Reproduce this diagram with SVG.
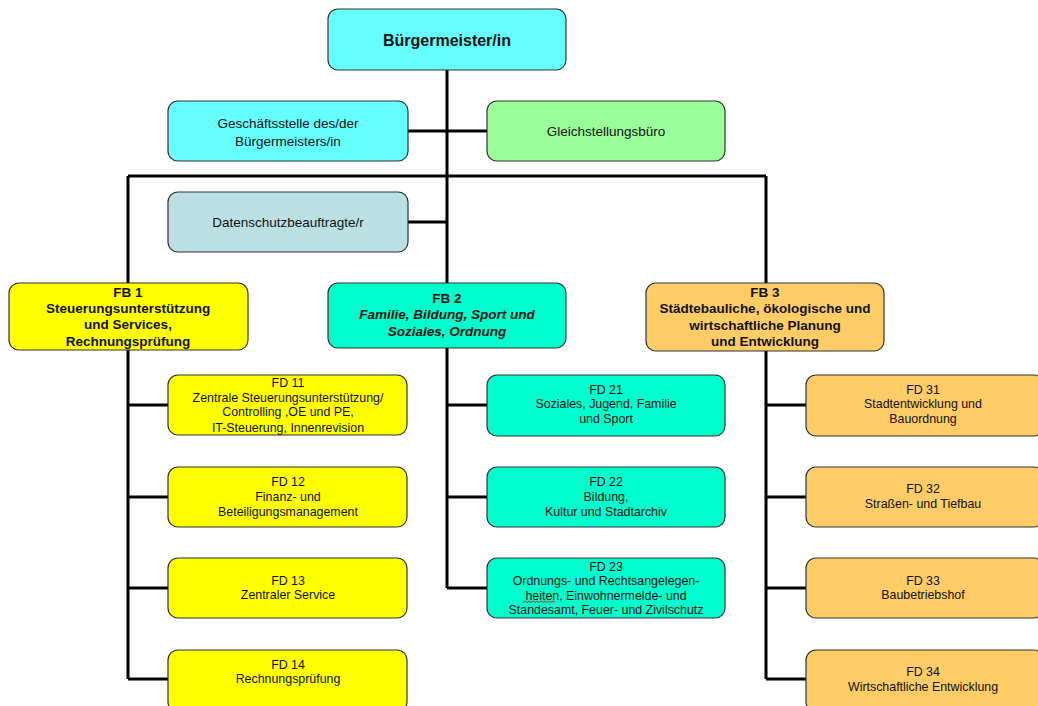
<svg xmlns="http://www.w3.org/2000/svg" width="1038" height="706" viewBox="0 0 1038 706">
<style>
.box{stroke:#333;stroke-width:1.2}
.bm{fill:#66FFFF}
.gs{fill:#66FFFF}
.gl{fill:#99FF99}
.ds{fill:#BBE0E3}
.y{fill:#FFFF00}
.t{fill:#00FFCC}
.o{fill:#FFCC66}
text{font-family:"Liberation Sans",Arial,sans-serif;fill:#111;text-anchor:middle}
.r{font-size:13.5px}
.s{font-size:12.4px}
.b{font-size:13.5px;font-weight:bold}
.bi{font-size:13.5px;font-weight:bold;font-style:italic}
.line{stroke:#000;stroke-width:3;fill:none}
</style>
<g id="connectors">
<path class="line" d="M447 70V283M447 348V588"/>
<path class="line" d="M408 131H487"/>
<path class="line" d="M128 176H766"/>
<path class="line" d="M128 176V283M128 350V679"/>
<path class="line" d="M766 176V283M766 351V679"/>
<path class="line" d="M408 222H447"/>
<path class="line" d="M128 405H168M128 497H168M128 588H168M128 679H168"/>
<path class="line" d="M447 405H487M447 497H487M447 588H487"/>
<path class="line" d="M766 405H806M766 497H806M766 588H806M766 679H806"/>
</g>
<g id="buergermeister">
<rect class="box bm" x="328" y="9" width="238" height="61" rx="10"/>
<text x="447" y="46" style="font-size:16px;font-weight:bold">Bürgermeister/in</text>
</g>
<g id="geschaeftsstelle">
<rect class="box gs" x="168" y="101" width="240" height="60" rx="10"/>
<text class="r" x="288" y="128">Geschäftsstelle des/der</text>
<text class="r" x="288" y="146">Bürgermeisters/in</text>
</g>
<g id="gleichstellung">
<rect class="box gl" x="487" y="101" width="238" height="60" rx="10"/>
<text class="r" x="606" y="136">Gleichstellungsbüro</text>
</g>
<g id="datenschutz">
<rect class="box ds" x="168" y="192" width="240" height="60" rx="10"/>
<text class="r" x="288" y="227">Datenschutzbeauftragte/r</text>
</g>
<g id="fb1">
<rect class="box y" x="9" y="283" width="239" height="67" rx="10"/>
<text class="b" x="128" y="297">FB 1</text>
<text class="b" x="128" y="313">Steuerungsunterstützung</text>
<text class="b" x="128" y="329">und Services,</text>
<text class="b" x="128" y="346">Rechnungsprüfung</text>
</g>
<g id="fb2">
<rect class="box t" x="328" y="283" width="238" height="65" rx="10"/>
<text class="b" x="447" y="303">FB 2</text>
<text class="bi" x="447" y="319">Familie, Bildung, Sport und</text>
<text class="bi" x="447" y="336">Soziales, Ordnung</text>
</g>
<g id="fb3">
<rect class="box o" x="646" y="283" width="238" height="68" rx="10"/>
<text class="b" x="765" y="297">FB 3</text>
<text class="b" x="765" y="313">Städtebauliche, ökologische und</text>
<text class="b" x="765" y="330">wirtschaftliche Planung</text>
<text class="b" x="765" y="346">und Entwicklung</text>
</g>
<g id="fd11">
<rect class="box y" x="168" y="375" width="239" height="60" rx="10"/>
<text class="s" x="288" y="387">FD 11</text>
<text class="s" x="288" y="402">Zentrale Steuerungsunterstützung/</text>
<text class="s" x="288" y="416">Controlling ,OE und PE,</text>
<text class="s" x="288" y="432">IT-Steuerung, Innenrevision</text>
</g>
<g id="fd12">
<rect class="box y" x="168" y="467" width="239" height="60" rx="10"/>
<text class="s" x="288" y="486">FD 12</text>
<text class="s" x="288" y="501">Finanz- und</text>
<text class="s" x="288" y="516">Beteiligungsmanagement</text>
</g>
<g id="fd13">
<rect class="box y" x="168" y="558" width="239" height="60" rx="10"/>
<text class="s" x="288" y="585">FD 13</text>
<text class="s" x="288" y="599">Zentraler Service</text>
</g>
<g id="fd14">
<rect class="box y" x="168" y="650" width="239" height="62" rx="10"/>
<text class="s" x="288" y="669">FD 14</text>
<text class="s" x="288" y="683">Rechnungsprüfung</text>
</g>
<g id="fd21">
<rect class="box t" x="487" y="375" width="238" height="61" rx="10"/>
<text class="s" x="606" y="394">FD 21</text>
<text class="s" x="606" y="408">Soziales, Jugend, Familie</text>
<text class="s" x="606" y="423">und Sport</text>
</g>
<g id="fd22">
<rect class="box t" x="487" y="467" width="238" height="60" rx="10"/>
<text class="s" x="606" y="486">FD 22</text>
<text class="s" x="606" y="501">Bildung,</text>
<text class="s" x="606" y="516">Kultur und Stadtarchiv</text>
</g>
<g id="fd23">
<rect class="box t" x="487" y="558" width="238" height="60" rx="10"/>
<text class="s" x="606" y="571">FD 23</text>
<text class="s" x="606" y="585">Ordnungs- und Rechtsangelegen-</text>
<text class="s" x="606" y="600">heiten, Einwohnermelde- und</text>
<text class="s" x="606" y="614">Standesamt, Feuer- und Zivilschutz</text>
<path d="M523 602.5l2 -1.5l2 1.5l2 -1.5l2 1.5l2 -1.5l2 1.5l2 -1.5l2 1.5l2 -1.5l2 1.5l2 -1.5l2 1.5l2 -1.5l2 1.5l2 -1.5l2 1.5" stroke="#e00" stroke-width="0.8" fill="none"/>
</g>
<g id="fd31">
<rect class="box o" x="806" y="375" width="238" height="61" rx="10"/>
<text class="s" x="923" y="394">FD 31</text>
<text class="s" x="923" y="408">Stadtentwicklung und</text>
<text class="s" x="923" y="423">Bauordnung</text>
</g>
<g id="fd32">
<rect class="box o" x="806" y="467" width="238" height="60" rx="10"/>
<text class="s" x="923" y="493">FD 32</text>
<text class="s" x="923" y="508">Straßen- und Tiefbau</text>
</g>
<g id="fd33">
<rect class="box o" x="806" y="558" width="238" height="60" rx="10"/>
<text class="s" x="923" y="585">FD 33</text>
<text class="s" x="923" y="599">Baubetriebshof</text>
</g>
<g id="fd34">
<rect class="box o" x="806" y="650" width="238" height="62" rx="10"/>
<text class="s" x="923" y="676">FD 34</text>
<text class="s" x="923" y="691">Wirtschaftliche Entwicklung</text>
</g>
</svg>
